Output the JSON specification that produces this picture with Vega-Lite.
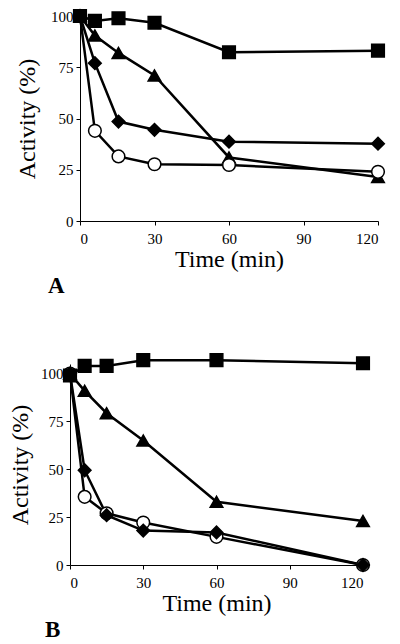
{
  "$schema": "https://vega.github.io/schema/vega-lite/v6.json",
  "padding": {"left": 8, "top": 6, "right": 5, "bottom": 5},
  "background": "white",
  "spacing": 52,
  "config": {
    "view": {"stroke": null},
    "font": "Liberation Serif",
    "axis": {
      "grid": false,
      "domainColor": "black",
      "tickColor": "black",
      "labelColor": "black",
      "titleColor": "black",
      "labelFont": "Liberation Serif",
      "titleFont": "Liberation Serif",
      "labelFontSize": 15,
      "titleFontSize": 24,
      "titleFontWeight": "normal",
      "domainWidth": 1,
      "tickWidth": 1,
      "tickSize": 4
    },
    "axisY": {"labelPadding": 3, "titlePadding": 8},
    "axisX": {"labelPadding": 6, "titlePadding": 1}
  },
  "datasets": {
    "pts": [
      {"panel": "A", "series": "triangle", "time": 0, "activity": 100},
      {"panel": "A", "series": "triangle", "time": 6, "activity": 90.5},
      {"panel": "A", "series": "triangle", "time": 15.5, "activity": 82},
      {"panel": "A", "series": "triangle", "time": 30, "activity": 71},
      {"panel": "A", "series": "triangle", "time": 60, "activity": 31},
      {"panel": "A", "series": "triangle", "time": 120, "activity": 21.5},
      {"panel": "A", "series": "circle", "time": 0, "activity": 100},
      {"panel": "A", "series": "circle", "time": 6, "activity": 44},
      {"panel": "A", "series": "circle", "time": 15.5, "activity": 31.5},
      {"panel": "A", "series": "circle", "time": 30, "activity": 27.7},
      {"panel": "A", "series": "circle", "time": 60, "activity": 27.3},
      {"panel": "A", "series": "circle", "time": 120, "activity": 24},
      {"panel": "A", "series": "diamond", "time": 0, "activity": 100},
      {"panel": "A", "series": "diamond", "time": 6, "activity": 77},
      {"panel": "A", "series": "diamond", "time": 15.5, "activity": 48.5},
      {"panel": "A", "series": "diamond", "time": 30, "activity": 44.5},
      {"panel": "A", "series": "diamond", "time": 60, "activity": 38.7},
      {"panel": "A", "series": "diamond", "time": 120, "activity": 37.7},
      {"panel": "A", "series": "square", "time": 0, "activity": 100},
      {"panel": "A", "series": "square", "time": 6, "activity": 97.6},
      {"panel": "A", "series": "square", "time": 15.5, "activity": 98.9},
      {"panel": "A", "series": "square", "time": 30, "activity": 96.7},
      {"panel": "A", "series": "square", "time": 60, "activity": 82.3},
      {"panel": "A", "series": "square", "time": 120, "activity": 83.1},
      {"panel": "B", "series": "triangle", "time": 0, "activity": 100},
      {"panel": "B", "series": "triangle", "time": 6, "activity": 91},
      {"panel": "B", "series": "triangle", "time": 15, "activity": 79.3},
      {"panel": "B", "series": "triangle", "time": 30, "activity": 65},
      {"panel": "B", "series": "triangle", "time": 60, "activity": 33},
      {"panel": "B", "series": "triangle", "time": 120, "activity": 23},
      {"panel": "B", "series": "circle", "time": 0, "activity": 100},
      {"panel": "B", "series": "circle", "time": 6, "activity": 35.6},
      {"panel": "B", "series": "circle", "time": 15, "activity": 27},
      {"panel": "B", "series": "circle", "time": 30, "activity": 22.2},
      {"panel": "B", "series": "circle", "time": 60, "activity": 14.7},
      {"panel": "B", "series": "circle", "time": 120, "activity": 0},
      {"panel": "B", "series": "diamond", "time": 0, "activity": 100},
      {"panel": "B", "series": "diamond", "time": 6, "activity": 49.5},
      {"panel": "B", "series": "diamond", "time": 15, "activity": 26},
      {"panel": "B", "series": "diamond", "time": 30, "activity": 18},
      {"panel": "B", "series": "diamond", "time": 60, "activity": 17},
      {"panel": "B", "series": "diamond", "time": 120, "activity": 0},
      {"panel": "B", "series": "square", "time": 0, "activity": 99},
      {"panel": "B", "series": "square", "time": 6, "activity": 104},
      {"panel": "B", "series": "square", "time": 15, "activity": 104},
      {"panel": "B", "series": "square", "time": 30, "activity": 107},
      {"panel": "B", "series": "square", "time": 60, "activity": 107},
      {"panel": "B", "series": "square", "time": 120, "activity": 105.4}
    ]
  },
  "vconcat": [
    {
      "width": 308,
      "height": 205,
      "data": {"name": "pts"},
      "transform": [{"filter": "datum.panel === 'A'"}],
      "title": {"text": "A", "orient": "bottom", "anchor": "start", "frame": "group", "dx": -22, "offset": 4, "font": "Liberation Serif", "fontSize": 23, "fontWeight": "bold", "color": "black"},
      "encoding": {
        "x": {"field": "time", "type": "quantitative", "scale": {"domain": [0, 120], "range": [10, 308], "nice": false}, "axis": {"values": [0, 30, 60, 90, 120], "title": "Time (min)"}},
        "y": {"field": "activity", "type": "quantitative", "scale": {"domain": [0, 100], "nice": false}, "axis": {"values": [0, 25, 50, 75, 100], "title": "Activity (%)", "offset": -10, "titlePadding": 11}}
      },
      "layer": [
        {"mark": {"type": "line", "color": "black", "strokeWidth": 2.5, "clip": false}, "encoding": {"detail": {"field": "series"}}},
        {"mark": {"type": "point", "stroke": "black", "strokeWidth": 1.5, "opacity": 1, "strokeOpacity": 1, "fillOpacity": 1, "clip": false},
          "encoding": {
            "shape": {"field": "series", "type": "nominal", "scale": {"domain": ["square", "triangle", "diamond", "circle"], "range": ["square", "triangle-up", "diamond", "circle"]}, "legend": null},
            "fill": {"field": "series", "type": "nominal", "scale": {"domain": ["square", "triangle", "diamond", "circle"], "range": ["black", "black", "black", "white"]}, "legend": null},
            "size": {"field": "series", "type": "nominal", "scale": {"domain": ["square", "triangle", "diamond", "circle"], "range": [160, 160, 150, 75]}, "legend": null}
          }}
      ]
    },
    {
      "width": 293,
      "height": 201,
      "data": {"name": "pts"},
      "transform": [{"filter": "datum.panel === 'B'"}],
      "title": {"text": "B", "orient": "bottom", "anchor": "start", "frame": "group", "dx": -25, "offset": 4, "font": "Liberation Serif", "fontSize": 23, "fontWeight": "bold", "color": "black"},
      "encoding": {
        "x": {"field": "time", "type": "quantitative", "scale": {"domain": [0, 120], "nice": false}, "axis": {"values": [0, 30, 60, 90, 120], "title": "Time (min)"}},
        "y": {"field": "activity", "type": "quantitative", "scale": {"domain": [0, 105], "nice": false}, "axis": {"values": [0, 25, 50, 75, 100], "title": "Activity (%)"}}
      },
      "layer": [
        {"mark": {"type": "line", "color": "black", "strokeWidth": 2.5, "clip": false}, "encoding": {"detail": {"field": "series"}}},
        {"mark": {"type": "point", "stroke": "black", "strokeWidth": 1.5, "opacity": 1, "strokeOpacity": 1, "fillOpacity": 1, "clip": false},
          "encoding": {
            "shape": {"field": "series", "type": "nominal", "scale": {"domain": ["square", "triangle", "diamond", "circle"], "range": ["square", "triangle-up", "diamond", "circle"]}, "legend": null},
            "fill": {"field": "series", "type": "nominal", "scale": {"domain": ["square", "triangle", "diamond", "circle"], "range": ["black", "black", "black", "white"]}, "legend": null},
            "size": {"field": "series", "type": "nominal", "scale": {"domain": ["square", "triangle", "diamond", "circle"], "range": [160, 160, 150, 75]}, "legend": null}
          }}
      ]
    }
  ]
}
